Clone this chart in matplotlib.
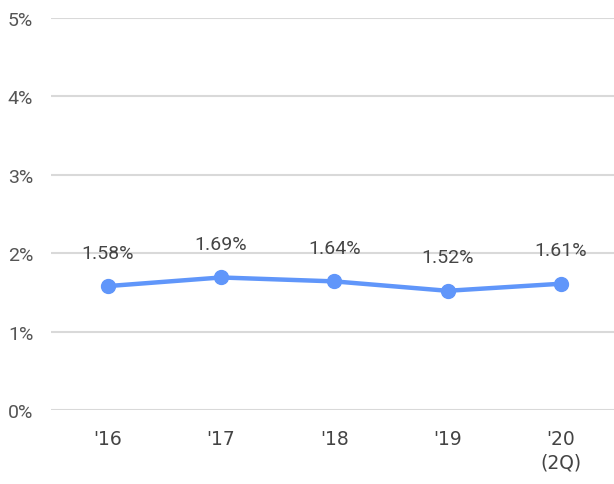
import matplotlib.pyplot as plt
import numpy as np

years = ["'16", "'17", "'18", "'19", "'20\n(2Q)"]
rates = [1.58, 1.69, 1.64, 1.52, 1.61]
yticks = [0, 1, 2, 3, 4, 5]

fig = plt.figure(figsize=(6.14, 4.85), dpi=100)
ax = fig.add_axes([0.0835, 0.1526, 0.922, 0.8084])

x = np.arange(len(years))
ax.plot(x, rates, color='#6096fa', linewidth=3.2, marker='o', markersize=10,
        solid_capstyle='round', zorder=3)

for xi, v in zip(x, rates):
    ax.annotate("%.2f%%" % v, (xi, v), xytext=(0, 24), textcoords='offset points',
                ha='center', va='center', fontsize=14, color='#454545',
                family='Roboto')

ax.set_xlim(-0.5, 4.5)
ax.set_ylim(0, 5)
ax.set_yticks(yticks)
ax.set_yticklabels(["%d%%" % t for t in yticks], family='Roboto', fontsize=14,
                   color='#555555')
ax.set_xticks(x)
ax.set_xticklabels(years, family='DejaVu Sans', fontsize=13.5,
                   color='#444444', linespacing=1.3, va='top')
ax.tick_params(axis='y', length=0, pad=13)
ax.tick_params(axis='x', length=0, pad=14)
ax.grid(axis='y', color='#d9d9d9', linewidth=1.5)
ax.set_axisbelow(True)
for s in ax.spines.values():
    s.set_visible(False)

plt.savefig("out.png", dpi=100)
